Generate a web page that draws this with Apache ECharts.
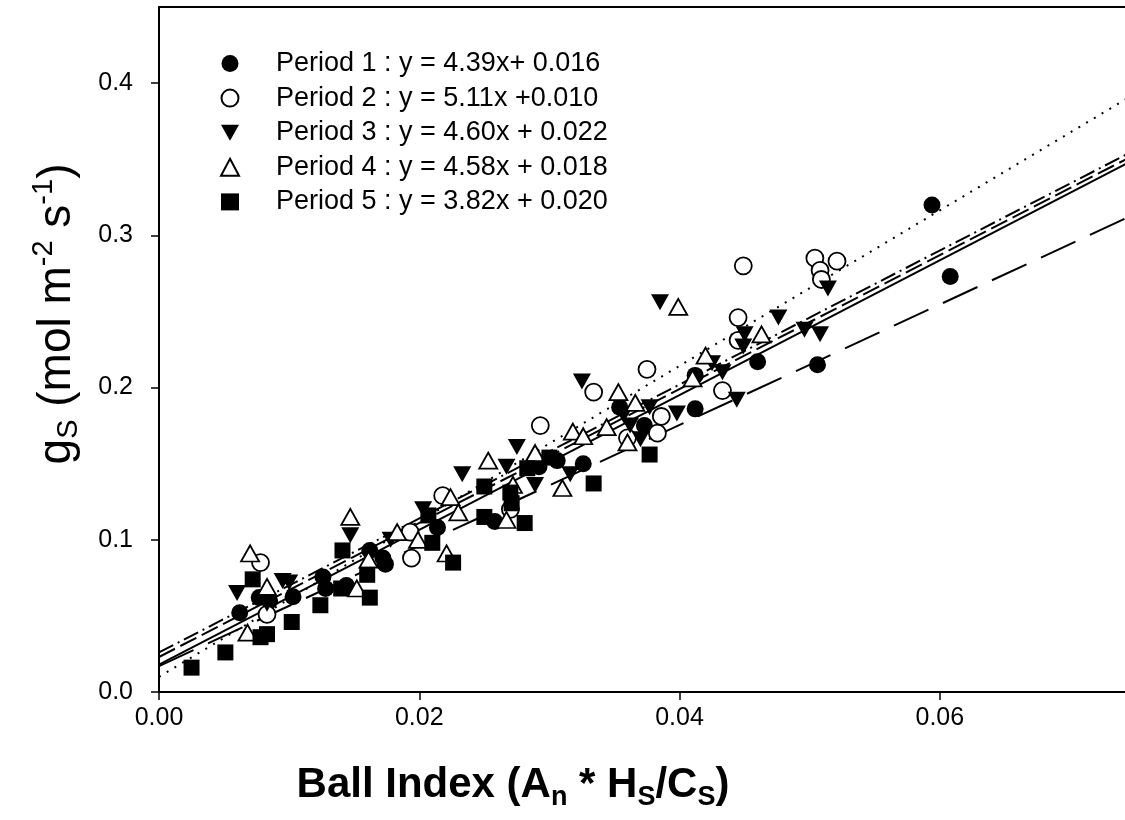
<!DOCTYPE html>
<html><head><meta charset="utf-8">
<script src="https://cdn.jsdelivr.net/npm/echarts@6/dist/echarts.min.js"></script>
<style>html,body{margin:0;padding:0;background:#fff}#c{width:1125px;height:820px}</style>
</head><body><div id="c"></div>
<script>
const periodNames = [
  'Period 1 : y = 4.39x+ 0.016',
  'Period 2 : y = 5.11x +0.010',
  'Period 3 : y = 4.60x + 0.022',
  'Period 4 : y = 4.58x + 0.018',
  'Period 5 : y = 3.82x + 0.020'
];
// regression lines as drawn in the picture: y at x = 0 and at x = fitEndX
const fitStartY = [0.018, 0.010, 0.026, 0.023, 0.017];
const fitEndY   = [0.350, 0.393, 0.356, 0.353, 0.314];
const fitEndX = 0.075;
const xTicks = [0, 0.02, 0.04, 0.06];
const yTicks = [0, 0.1, 0.2, 0.3, 0.4];
const xMax = 0.075, yMax = 0.45;

const period1 = [[0.0062,0.052],[0.0077,0.062],[0.0085,0.060],[0.0103,0.0625],[0.0126,0.0756],[0.0128,0.068],[0.0144,0.070],[0.0162,0.093],[0.0172,0.088],[0.0174,0.084],[0.0214,0.108],[0.0258,0.112],[0.0292,0.148],[0.0306,0.152],[0.0326,0.150],[0.0354,0.187],[0.0373,0.175],[0.0412,0.186],[0.0412,0.208],[0.0460,0.217],[0.0506,0.215],[0.0594,0.320],[0.0608,0.273]];
const period2 = [[0.0078,0.085],[0.0083,0.051],[0.0193,0.105],[0.0194,0.088],[0.0218,0.129],[0.0270,0.120],[0.0293,0.175],[0.0334,0.197],[0.0360,0.167],[0.0375,0.212],[0.0383,0.170],[0.0386,0.181],[0.0433,0.198],[0.0445,0.246],[0.0445,0.231],[0.0449,0.280],[0.0504,0.285],[0.0508,0.277],[0.0509,0.271],[0.0521,0.283]];
const period3 = [[0.0060,0.065],[0.0083,0.058],[0.0095,0.073],[0.0100,0.072],[0.0147,0.103],[0.0178,0.100],[0.0203,0.120],[0.0233,0.143],[0.0267,0.148],[0.0275,0.161],[0.0289,0.136],[0.0316,0.143],[0.0325,0.204],[0.0357,0.182],[0.0362,0.175],[0.0370,0.166],[0.0377,0.187],[0.0385,0.256],[0.0398,0.183],[0.0425,0.216],[0.0433,0.210],[0.0444,0.192],[0.0449,0.227],[0.0450,0.235],[0.0476,0.246],[0.0496,0.238],[0.0508,0.235],[0.0514,0.265]];
const period4 = [[0.0068,0.039],[0.0070,0.091],[0.0083,0.069],[0.0147,0.115],[0.0152,0.068],[0.0161,0.087],[0.0183,0.105],[0.0199,0.100],[0.0221,0.091],[0.0224,0.128],[0.0230,0.118],[0.0253,0.152],[0.0267,0.113],[0.0272,0.136],[0.0289,0.157],[0.0310,0.134],[0.0318,0.171],[0.0326,0.168],[0.0344,0.174],[0.0353,0.197],[0.0360,0.164],[0.0366,0.190],[0.0399,0.253],[0.0410,0.206],[0.0420,0.221],[0.0463,0.235]];
const period5 = [[0.0025,0.016],[0.0051,0.026],[0.0072,0.074],[0.0078,0.036],[0.0083,0.038],[0.0102,0.046],[0.0124,0.057],[0.0141,0.093],[0.0140,0.068],[0.0160,0.077],[0.0162,0.062],[0.0207,0.116],[0.0210,0.098],[0.0226,0.085],[0.0250,0.135],[0.0250,0.115],[0.0270,0.131],[0.0271,0.124],[0.0281,0.111],[0.0283,0.147],[0.0300,0.154],[0.0334,0.137],[0.0377,0.156]];

const periodData = [period1, period2, period3, period4, period5];
const FONT = 'Liberation Sans';
const symbols = [
  {symbol:'circle', size:17, rotate:0, fill:'#000'},
  {symbol:'circle', size:17, rotate:0, fill:'#fff'},
  {symbol:'triangle', size:[18,16], rotate:180, fill:'#000'},
  {symbol:'triangle', size:[18,16], rotate:0, fill:'#fff'},
  {symbol:'rect', size:16, rotate:0, fill:'#000'}
];
const dashes = ['solid', [2,7], [16,5,2,5], [18,6], [38,16]];

const series = [];
periodNames.forEach((n, i) => {
  series.push({
    type:'line', name:'fit'+i, silent:true, symbol:'none', z:1,
    data:[[0, fitStartY[i]], [fitEndX, fitEndY[i]]],
    lineStyle:{color:'#000', width:2, type:dashes[i]}
  });
});
periodNames.forEach((n, i) => {
  const s = symbols[i];
  series.push({
    type:'scatter', name:n, data:periodData[i], z:2,
    symbol:s.symbol, symbolSize:s.size, symbolRotate:s.rotate,
    itemStyle:{color:s.fill, borderColor:'#000', borderWidth: s.fill === '#fff' ? 1.8 : 0, opacity:1},
    emphasis:{disabled:true}
  });
});

const legendData = periodNames.map((n, i) => i === 2 ? {name:n, icon:'path://M0,0L18,0L9,16Z'} : {name:n});

const chart = echarts.init(document.getElementById('c'), null, {renderer:'canvas'});
chart.setOption({
  animation:false,
  backgroundColor:'#fff',
  grid:{left:159, top:7, width:976, height:685, show:true, borderColor:'#000', borderWidth:2,
        backgroundColor:'transparent', containLabel:false, outerBoundsMode:'none'},
  legend:{
    data:legendData, orient:'vertical', left:220, top:50, padding:0, itemWidth:18, itemHeight:17, itemGap:7.6,
    selectedMode:false,
    textStyle:{fontSize:27, fontFamily:FONT, color:'#000', padding:[0,0,0,32], lineHeight:27}
  },
  xAxis:{
    type:'value', min:0, max:xMax,
    axisLine:{show:true, lineStyle:{color:'#000', width:2}},
    axisTick:{show:true, length:8, inside:false, customValues:xTicks, lineStyle:{color:'#000', width:1.5}},
    axisLabel:{customValues:xTicks, formatter:v => v.toFixed(2), fontSize:25, fontFamily:FONT, color:'#000', margin:14},
    splitLine:{show:false}
  },
  yAxis:{
    type:'value', min:0, max:yMax,
    axisLine:{show:true, lineStyle:{color:'#000', width:2}},
    axisTick:{show:true, length:8, inside:false, customValues:yTicks, lineStyle:{color:'#000', width:1.5}},
    axisLabel:{customValues:yTicks, formatter:v => v.toFixed(1), fontSize:25, fontFamily:FONT, color:'#000', margin:26},
    splitLine:{show:false}
  },
  graphic:[
    {type:'text', x:513, y:785, style:{
      text:'{b|Ball Index (A}{s|n}{b| * H}{s|S}{b|/C}{s|S}{b|)}',
      align:'center', verticalAlign:'middle',
      rich:{
        b:{fontSize:42, fontWeight:'bold', fontFamily:FONT, fill:'#000'},
        s:{fontSize:27, fontWeight:'bold', fontFamily:FONT, fill:'#000', padding:[26,0,0,0]}
      }
    }},
    {type:'text', x:57, y:314, rotation:Math.PI/2, style:{
      text:'{r|g}{sub|S}{r| (mol m}{sup|-2}{r| s}{sup|-1}{r|)}',
      align:'center', verticalAlign:'middle',
      rich:{
        r:{fontSize:46, fontFamily:FONT, fill:'#000'},
        sub:{fontSize:29, fontFamily:FONT, fill:'#000', padding:[23,0,0,0]},
        sup:{fontSize:29, fontFamily:FONT, fill:'#000', padding:[0,0,27,0]}
      }
    }}
  ],
  series:series
});
</script></body></html>
